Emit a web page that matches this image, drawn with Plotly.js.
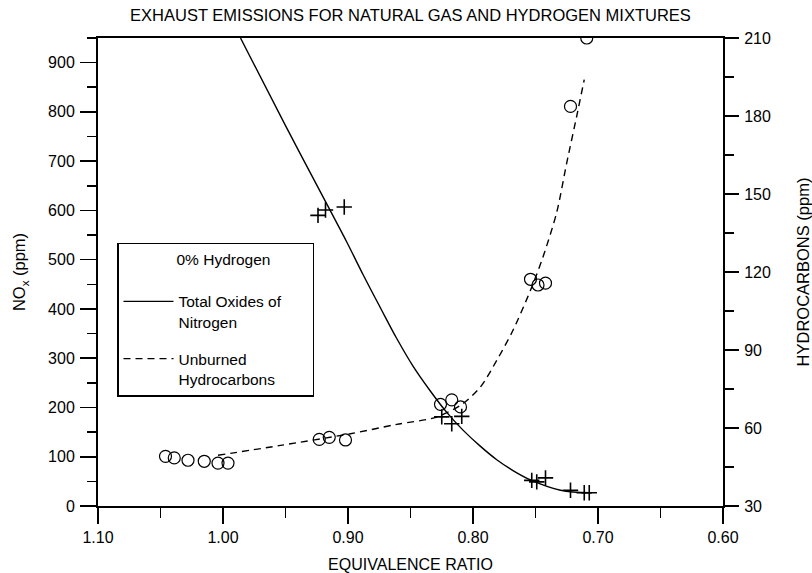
<!DOCTYPE html>
<html>
<head>
<meta charset="utf-8">
<script src="https://cdn.plot.ly/plotly-3.0.1.min.js"></script>
<style>html,body{margin:0;padding:0;background:#fff;}#chart{width:812px;height:573px;}</style>
</head>
<body>
<div id="chart"></div>
<script>
// Measured NOx points (plus markers, left axis)
var noxRatio = [0.924, 0.918, 0.903, 0.825, 0.817, 0.809, 0.753, 0.749, 0.742, 0.722, 0.711, 0.707];
var noxPpm   = [590, 601, 607, 181, 167, 182, 52, 49, 57, 32, 27, 27];

// Measured hydrocarbon points (circle markers, right axis)
var hcRatio = [1.046, 1.039, 1.028, 1.015, 1.004, 0.996, 0.923, 0.915, 0.902, 0.826, 0.817, 0.810, 0.754, 0.748, 0.742, 0.722, 0.709];
var hcPpm   = [49.1, 48.5, 47.6, 47.2, 46.5, 46.5, 55.6, 56.4, 55.4, 69.1, 70.8, 68.1, 117.2, 115.0, 115.7, 183.7, 210];

// Fitted curve: Total Oxides of Nitrogen (solid)
var noxCurveX = [0.986, 0.950, 0.913, 0.901, 0.888, 0.874, 0.861, 0.848, 0.834, 0.821, 0.808, 0.794, 0.781, 0.768, 0.754, 0.730, 0.706];
var noxCurveY = [950, 772, 594, 536, 470, 402, 340, 284, 233, 190, 154, 121, 94, 72, 53, 32, 27];

// Fitted curve: Unburned Hydrocarbons (dashed)
var hcCurveX = [1.004, 0.954, 0.898, 0.861, 0.829, 0.808, 0.794, 0.781, 0.768, 0.754, 0.744, 0.733, 0.725, 0.717, 0.711];
var hcCurveY = [49.5, 53.3, 57.8, 61.4, 64.2, 69.4, 75.8, 86, 97.6, 113, 125.8, 143, 162, 180, 194];

// Legend / title texts
var legendTitle = '0% Hydrogen';
var noxName = 'Total Oxides of';
var noxName2 = 'Nitrogen';
var hcName = 'Unburned';
var hcName2 = 'Hydrocarbons';

var FONT = '"Liberation Sans", Arial, Helvetica, sans-serif';
var NB = '\u00a0';
function pad(n) { var s = ''; for (var i = 0; i < n; i++) s += NB; return s; }

var traces = [
  {x: noxCurveX, y: noxCurveY, mode: 'lines', name: noxName + pad(6) + '<br>' + noxName2,
   line: {color: 'black', width: 1.4, shape: 'spline', smoothing: 1}, legendgroup: 'a', yaxis: 'y'},
  {x: hcCurveX, y: hcCurveY, mode: 'lines', name: hcName + '<br>' + hcName2,
   line: {color: 'black', width: 1.4, dash: '7px,5px', shape: 'spline', smoothing: 0.8}, legendgroup: 'b', yaxis: 'y2'},
  {x: noxRatio, y: noxPpm, mode: 'markers', showlegend: false, yaxis: 'y',
   marker: {symbol: 'cross-thin', size: 11, line: {color: 'black', width: 1.6}}, cliponaxis: false},
  {x: hcRatio, y: hcPpm, mode: 'markers', showlegend: false, yaxis: 'y2',
   marker: {symbol: 'circle-open', size: 12, color: 'black', line: {color: 'black', width: 1.2}}, cliponaxis: true}
];

var layout = {
  width: 812, height: 573,
  paper_bgcolor: 'white', plot_bgcolor: 'white',
  font: {family: FONT, color: 'black', size: 16},
  margin: {l: 98, r: 89, t: 38, b: 67, pad: 0},
  title: {text: 'EXHAUST EMISSIONS FOR NATURAL GAS AND HYDROGEN MIXTURES', xref: 'paper', x: 0.5,
          yref: 'container', y: 0.974, yanchor: 'middle', font: {size: 16.5, family: FONT, color: 'black'}},
  showlegend: true,
  legend: {x: 0.0304, y: 0.562, xanchor: 'left', yanchor: 'top', bgcolor: 'white',
           bordercolor: 'black', borderwidth: 1.5, font: {size: 15.5, family: FONT, color: 'black'},
           title: {text: pad(13) + legendTitle + '<br>' + NB, side: 'top', font: {size: 15.5, family: FONT, color: 'black'}},
           itemwidth: 50, valign: 'top', traceorder: 'grouped', tracegroupgap: 14},
  xaxis: {range: [1.10, 0.60], dtick: 0.1, tick0: 0.6, tickformat: '.2f',
          showgrid: false, zeroline: false, showline: true, linecolor: 'black', linewidth: 2, mirror: true,
          ticks: 'outside', ticklen: 16, tickwidth: 1.6, tickcolor: 'black', ticklabelstandoff: 0,
          minor: {dtick: 0.05, ticks: 'outside', ticklen: 10, tickwidth: 1.6, tickcolor: 'black', showgrid: false},
          tickfont: {size: 16},
          title: {text: 'EQUIVALENCE RATIO', font: {size: 16}, standoff: 14}},
  yaxis: {range: [0, 950], dtick: 100, tick0: 0, showgrid: false, zeroline: false,
          showline: true, linecolor: 'black', linewidth: 2,
          ticks: 'outside', ticklen: 16, tickwidth: 1.6, tickcolor: 'black', ticklabelstandoff: 2,
          minor: {dtick: 50, ticks: 'outside', ticklen: 9, tickwidth: 1.6, tickcolor: 'black', showgrid: false},
          tickfont: {size: 16},
          title: {text: 'NO<sub>x</sub> (ppm)', font: {size: 16.5}, standoff: 18}},
  yaxis2: {range: [30, 210], dtick: 30, tick0: 30, overlaying: 'y', side: 'right',
           showgrid: false, zeroline: false, showline: true, linecolor: 'black', linewidth: 2,
           ticks: 'outside', ticklen: 14, tickwidth: 1.6, tickcolor: 'black', ticklabelstandoff: 2,
           minor: {dtick: 15, ticks: 'outside', ticklen: 9, tickwidth: 1.6, tickcolor: 'black', showgrid: false},
           tickfont: {size: 16},
           title: {text: 'HYDROCARBONS (ppm)', font: {size: 16.5}, standoff: 28}}
};

Plotly.newPlot('chart', traces, layout, {displayModeBar: false, staticPlot: true});
</script>
</body>
</html>
